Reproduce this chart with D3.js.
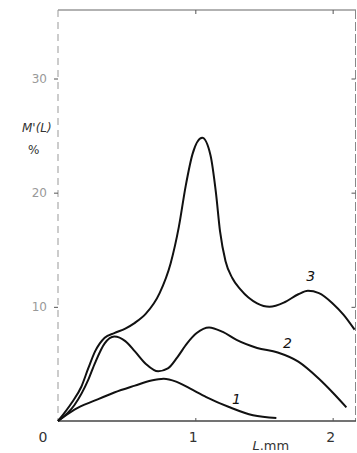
<!DOCTYPE html>
<html>
<head>
<meta charset="utf-8">
<script src="https://cdn.jsdelivr.net/npm/d3@7"></script>
<style>
  body { margin: 0; background: #fff; }
  svg { display: block; }
  text { font-family: "DejaVu Sans", sans-serif; fill: #333; }
</style>
</head>
<body>
<div id="plotRegi"></div>
<script>
/* Data */
// Curve 1
var curve1_x = [0, 0.12, 0.27, 0.41, 0.56, 0.68, 0.77, 0.86, 0.96, 1.08, 1.25, 1.42, 1.59]
var curve1_y = [0, 1.0, 1.8, 2.5, 3.1, 3.55, 3.7, 3.45, 2.85, 2.1, 1.2, 0.5, 0.26]
// Curve 2
var curve2_x = [0, 0.12, 0.22, 0.27, 0.34, 0.41, 0.49, 0.56, 0.64, 0.73, 0.8, 0.87, 0.94, 1.01, 1.1, 1.2, 1.3, 1.45, 1.6, 1.75, 1.9, 2.0, 2.1]
var curve2_y = [0, 1.4, 3.6, 5.1, 6.8, 7.4, 7.0, 6.1, 5.0, 4.35, 4.6, 5.6, 6.8, 7.7, 8.2, 7.8, 7.1, 6.4, 6.0, 5.2, 3.7, 2.5, 1.2]
// Curve 3
var curve3_x = [0, 0.1, 0.17, 0.22, 0.27, 0.34, 0.41, 0.49, 0.56, 0.64, 0.74, 0.82, 0.88, 0.93, 0.98, 1.05, 1.11, 1.15, 1.18, 1.22, 1.27, 1.33, 1.45, 1.54, 1.65, 1.75, 1.82, 1.9, 2.0, 2.08, 2.16]
var curve3_y = [0, 1.6, 3.0, 4.6, 6.1, 7.3, 7.7, 8.1, 8.6, 9.4, 11.2, 13.8, 17.0, 20.6, 23.4, 24.8, 23.3, 20.0, 16.6, 14.0, 12.5, 11.5, 10.3, 10.0, 10.4, 11.1, 11.4, 11.2, 10.3, 9.3, 8.0]
var curve_names = ["1", "2", "3"]
// label anchors (data coords)
var label_x = [1.3, 1.67, 1.84]
var label_y = [1.5, 6.4, 12.3]
// ticks
var ticks_y = [10, 20, 30]
var ticks_x = [1, 2]


/* Drawing */
var margin = { top: 10, right: 1, bottom: 32, left: 58 },
    width = 357 - margin.left - margin.right,
    height = 453 - margin.top - margin.bottom

var scale_x = d3.scaleLinear().domain([0, 2.17]).range([0, width])
var scale_y = d3.scaleLinear().domain([0, 36]).range([height, 0])

var svg = d3.select("#plotRegi")
    .append("svg")
    .attr("width", 357)
    .attr("height", 453)

var g = svg.append("g")
    .attr("transform", "translate(" + margin.left + "," + margin.top + ")")

// Frame
g.append("line").attr("x1", 0).attr("y1", 0).attr("x2", width).attr("y2", 0)
    .style("stroke", "#666").style("stroke-width", "1.2px")
g.append("line").attr("x1", 0).attr("y1", 0).attr("x2", 0).attr("y2", height)
    .style("stroke", "#999").style("stroke-width", "1px").style("stroke-dasharray", "7,5")
g.append("line").attr("x1", width - 0.5).attr("y1", 0).attr("x2", width - 0.5).attr("y2", height)
    .style("stroke", "#888").style("stroke-width", "1px").style("stroke-dasharray", "9,3")
g.append("line").attr("x1", 0).attr("y1", height).attr("x2", width).attr("y2", height)
    .style("stroke", "#444").style("stroke-width", "1.3px")

// Axes
var axL = g.append("g").call(d3.axisLeft(scale_y).tickValues(ticks_y).tickSize(4).tickPadding(7))
var axR = g.append("g").attr("transform", "translate(" + (width - 0.5) + ",0)")
    .call(d3.axisLeft(scale_y).tickValues(ticks_y).tickSize(4).tickFormat(""))
var axT = g.append("g").call(d3.axisBottom(scale_x).tickValues(ticks_x).tickSize(4).tickFormat(""))
var axB = g.append("g").attr("transform", "translate(0," + height + ")")
    .call(d3.axisTop(scale_x).tickValues(ticks_x).tickSize(3).tickFormat(""))

;[axL, axR, axT, axB].forEach(function (a) {
    a.select(".domain").remove()
    a.selectAll("line").style("stroke", "#555")
})
axL.selectAll("text")
    .style("font-size", "12px")
    .style("fill", "#999")

// x tick labels
g.selectAll("NONE")
    .data([0].concat(ticks_x))
    .enter()
    .append("text")
    .attr("x", d => scale_x(d) + (d == 0 ? -15 : -2))
    .attr("y", height + 21)
    .attr("text-anchor", "middle")
    .style("font-size", "14px")
    .text(d => d)

// axis titles
var xt = g.append("text")
    .attr("x", scale_x(1.55))
    .attr("y", height + 29)
    .attr("text-anchor", "middle")
    .style("font-size", "13px")
xt.append("tspan").style("font-style", "italic").text("L")
xt.append("tspan").text(".mm")

g.append("text")
    .attr("x", -36)
    .attr("y", 122)
    .style("font-size", "12px")
    .style("font-style", "italic")
    .text("M'(L)")
g.append("text")
    .attr("x", -30)
    .attr("y", 144)
    .style("font-size", "12px")
    .text("%")

// Curves
var curves = [
    d3.zip(curve1_x, curve1_y),
    d3.zip(curve2_x, curve2_y),
    d3.zip(curve3_x, curve3_y)
]

var line = d3.line()
    .x(d => scale_x(d[0]))
    .y(d => scale_y(d[1]))
    .curve(d3.curveMonotoneX)

g.selectAll("NONE")
    .data(curves)
    .enter()
    .append("path")
    .attr("d", d => line(d))
    .style("fill", "none")
    .style("stroke", "#111")
    .style("stroke-width", "2px")

g.selectAll("NONE")
    .data(curve_names)
    .enter()
    .append("text")
    .attr("x", (d, i) => scale_x(label_x[i]))
    .attr("y", (d, i) => scale_y(label_y[i]))
    .attr("text-anchor", "middle")
    .style("font-size", "14px")
    .style("font-style", "italic")
    .style("fill", "#111")
    .text(d => d)
</script>
</body>
</html>
